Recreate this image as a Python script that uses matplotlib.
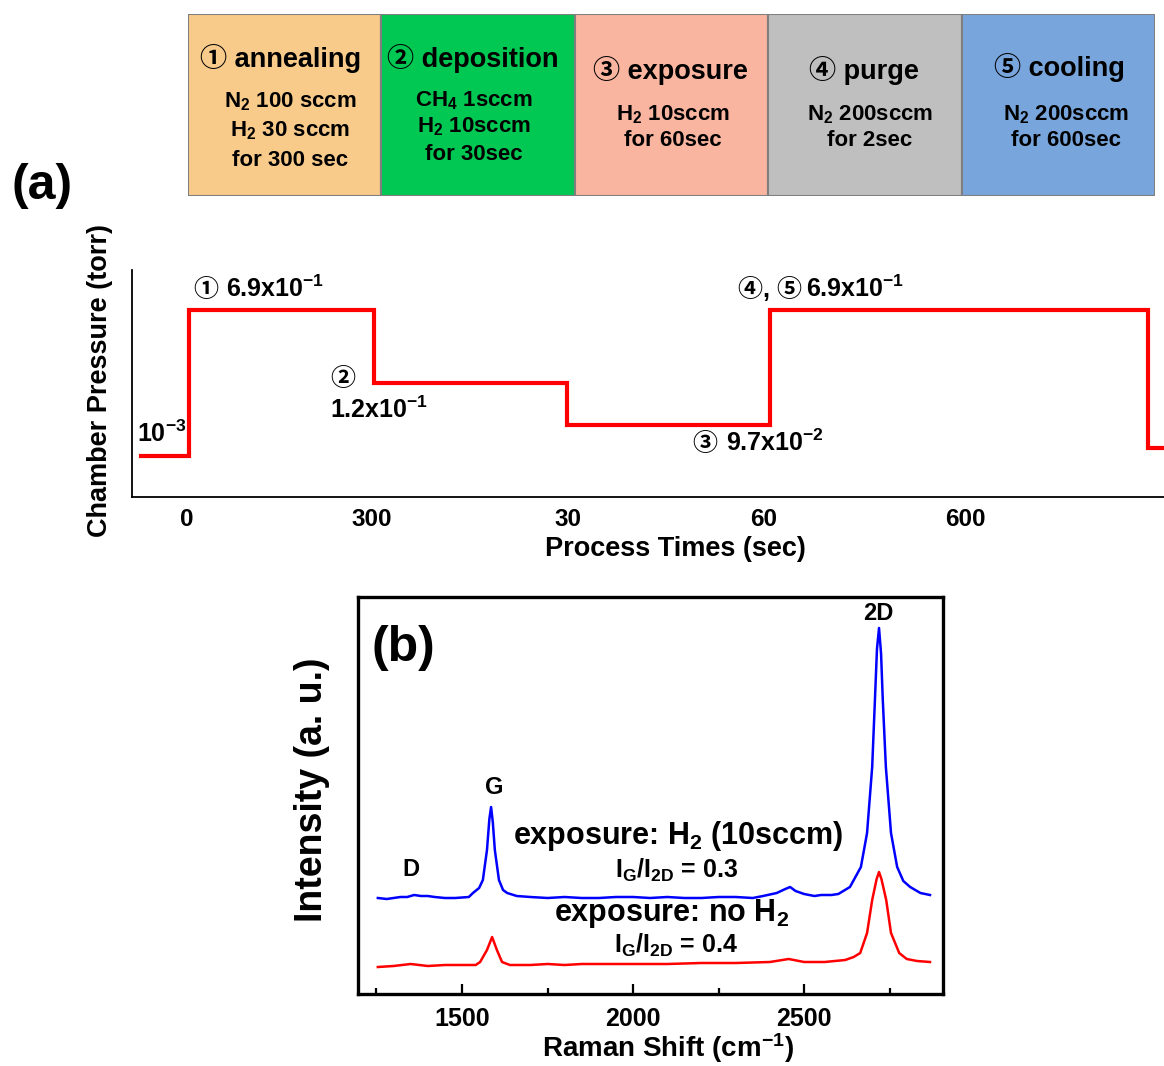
import matplotlib
matplotlib.use('Agg')
import matplotlib.pyplot as plt
from matplotlib.ticker import FixedLocator

plt.rcParams['font.family'] = ['Liberation Sans', 'Noto Sans CJK JP', 'DejaVu Sans']
plt.rcParams['font.weight'] = 'bold'
plt.rcParams['mathtext.fontset'] = 'custom'
plt.rcParams['mathtext.rm'] = 'Liberation Sans:bold'
plt.rcParams['mathtext.it'] = 'Liberation Sans:bold'
plt.rcParams['mathtext.bf'] = 'Liberation Sans:bold'
plt.rcParams['mathtext.default'] = 'rm'

# ---- process steps (top boxes) ----
step_marks = ['①', '②', '③', '④', '⑤']
step_names = ['annealing', 'deposition', 'exposure', 'purge', 'cooling']
step_gas = [
    ['N$_2$ 100 sccm', 'H$_2$ 30 sccm', 'for 300 sec'],
    ['CH$_4$ 1sccm', 'H$_2$ 10sccm', 'for 30sec'],
    ['H$_2$ 10sccm', 'for 60sec'],
    ['N$_2$ 200sccm', 'for 2sec'],
    ['N$_2$ 200sccm', 'for 600sec'],
]
box_colors = ['#f9cb8b', '#00c853', '#f9b5a0', '#bfbfbf', '#78a6dc']

# ---- (a) schematic chamber pressure (arbitrary process axis) ----
time_ticks = [55, 240, 436, 632, 833]
time_labels = ['0', '300', '30', '60', '600']
step_x = [9, 57, 242, 435, 638, 1016, 1032]
step_y = [41, 187, 114, 72, 187, 49, 49]

# ---- (b) Raman spectra ----
blue_x = [1254, 1280, 1300, 1320, 1340, 1360, 1380, 1400, 1420, 1450, 1480, 1520,
          1532, 1550, 1561, 1573, 1580, 1585, 1590, 1596, 1608, 1620, 1632, 1660,
          1700, 1750, 1800, 1850, 1900, 1950, 2000, 2050, 2100, 2150, 2200, 2250,
          2300, 2350, 2380, 2420, 2445, 2459, 2475, 2500, 2530, 2550, 2580, 2600,
          2634, 2666, 2684, 2699, 2707, 2713, 2719, 2725, 2730, 2739, 2754, 2772,
          2790, 2810, 2840, 2868]
blue_y = [96, 95, 96, 97, 97, 99, 98, 98, 97, 96, 96, 97,
          101, 106, 114, 144, 175, 187, 172, 144, 114, 104, 101, 98,
          97, 96, 97, 96, 96, 97, 97, 96, 97, 96, 96, 97,
          97, 96, 98, 101, 105, 107, 103, 100, 98, 99, 99, 100,
          107, 127, 161, 227, 294, 345, 366, 340, 294, 227, 161, 127,
          113, 107, 101, 99]
red_x = [1254, 1300, 1350, 1400, 1450, 1480, 1540, 1553, 1573, 1588, 1602, 1617,
         1640, 1700, 1750, 1800, 1850, 1900, 2000, 2100, 2200, 2300, 2400, 2455,
         2500, 2560, 2620, 2645, 2664, 2684, 2699, 2712, 2719, 2726, 2740, 2754,
         2778, 2800, 2830, 2868]
red_y = [27, 28, 30, 28, 29, 29, 29, 32, 44, 57, 44, 32,
         29, 29, 30, 29, 30, 30, 30, 30, 31, 31, 32, 35,
         32, 32, 34, 37, 41, 61, 94, 115, 122, 115, 94, 61,
         41, 35, 33, 32]

W, H = 1164, 1066
fig = plt.figure(figsize=(W / 100, H / 100), dpi=100)


def px_rect(x0, y0, x1, y1):
    return [x0 / W, 1 - y1 / H, (x1 - x0) / W, (y1 - y0) / H]


# top boxes
ax_top = fig.add_axes(px_rect(188, 14, 1155, 196))
ax_top.bar(range(5), [1] * 5, width=1, align='edge', color=box_colors,
           edgecolor='#7f7f7f', linewidth=1.5)
ax_top.set_xlim(0, 5)
ax_top.set_ylim(1, 0)
ax_top.axis('off')

title_y = [58, 58, 70, 70, 67]
title_dx = [0.477, 0.474, 0.497, 0.495, 0.504]
line_y = [[102, 131, 160], [101, 127, 155], [115, 141], [115, 141], [115, 141]]
line_dx = [0.527, 0.48, 0.508, 0.527, 0.54]
for i in range(5):
    ax_top.text(i + title_dx[i], (title_y[i] - 14) / 182,
                step_marks[i] + ' ' + step_names[i],
                ha='center', va='center', fontsize=19.5)
    for txt, yy in zip(step_gas[i], line_y[i]):
        ax_top.text(i + line_dx[i], (yy - 14) / 182, txt,
                    ha='center', va='center', fontsize=16)

# panel (a)
ax_a = fig.add_axes(px_rect(132, 270, 1164, 497))
ax_a.step(step_x, step_y, where='post', color='red', lw=3, solid_joinstyle='miter')
ax_a.set_xlim(0, 1032)
ax_a.set_ylim(0, 227)
for s in ['top', 'right']:
    ax_a.spines[s].set_visible(False)
ax_a.spines['left'].set_linewidth(1.3)
ax_a.spines['bottom'].set_linewidth(1.3)
ax_a.set_yticks([])
ax_a.set_xticks(time_ticks)
ax_a.set_xticklabels(time_labels, fontsize=17.5)
ax_a.tick_params(axis='x', length=0, pad=8)

ax_a.text(5, 63, '10$^{-3}$', ha='left', va='center', fontsize=18)
ax_a.text(61, 207, '①', ha='left', va='center', fontsize=18)
ax_a.text(94, 208, '6.9x10$^{-1}$', ha='left', va='center', fontsize=18)
ax_a.text(211, 118, '②', ha='center', va='center', fontsize=18)
ax_a.text(198, 87, '1.2x10$^{-1}$', ha='left', va='center', fontsize=18)
ax_a.text(560, 53, '③', ha='left', va='center', fontsize=18)
ax_a.text(594, 54, '9.7x10$^{-2}$', ha='left', va='center', fontsize=18)
ax_a.text(606, 207, '④, ⑤', ha='left', va='center', fontsize=18)
ax_a.text(674, 208, '6.9x10$^{-1}$', ha='left', va='center', fontsize=18)

fig.text(675 / W, 1 - 549 / H, 'Process Times (sec)', ha='center', va='center', fontsize=19.5)
fig.text(100 / W, 1 - 380 / H, 'Chamber Pressure (torr)', ha='center', va='center',
         rotation=90, fontsize=19.5)
fig.text(42 / W, 1 - 186 / H, '(a)', ha='center', va='center', fontsize=36)

# panel (b)
ax_b = fig.add_axes(px_rect(358, 597, 943, 994))
ax_b.plot(blue_x, blue_y, color='blue', lw=1.8)
ax_b.plot(red_x, red_y, color='red', lw=1.8)
ax_b.set_xlim(1196, 2906)
ax_b.set_ylim(0, 397)
for s in ax_b.spines.values():
    s.set_linewidth(2.4)
ax_b.set_yticks([])
ax_b.set_xticks([1500, 2000, 2500])
ax_b.xaxis.set_minor_locator(FixedLocator([1250, 1750, 2250, 2750]))
ax_b.tick_params(axis='x', which='major', direction='in', length=7, width=1.6,
                 labelsize=18, pad=9)
ax_b.tick_params(axis='x', which='minor', direction='in', length=4, width=1.6)

ax_b.text(1594, 207, 'G', ha='center', va='center', fontsize=17)
ax_b.text(1351, 124, 'D', ha='center', va='center', fontsize=17)
ax_b.text(2716, 380, '2D', ha='center', va='center', fontsize=17)
ax_b.text(2132, 158, 'exposure: H$_2$ (10sccm)', ha='center', va='center', fontsize=22)
ax_b.text(2126, 124, 'I$_G$/I$_{2D}$ = 0.3', ha='center', va='center', fontsize=18)
ax_b.text(2114, 80, 'exposure: no H$_2$', ha='center', va='center', fontsize=22)
ax_b.text(2126, 49, 'I$_G$/I$_{2D}$ = 0.4', ha='center', va='center', fontsize=18)
ax_b.text(1330, 346, '(b)', ha='center', va='center', fontsize=36)

fig.text(668 / W, 1 - 1048 / H, 'Raman Shift (cm$^{-1}$)', ha='center', va='center', fontsize=20)
fig.text(312 / W, 1 - 790 / H, 'Intensity (a. u.)', ha='center', va='center',
         rotation=90, fontsize=27)

fig.savefig('out.png', dpi=100)
